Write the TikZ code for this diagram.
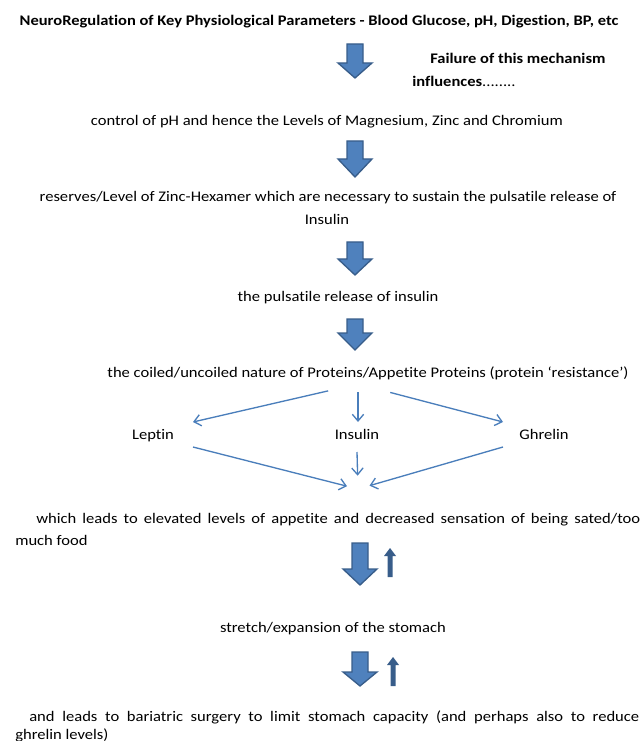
\documentclass[tikz,border=0pt]{standalone}
\usepackage{xcolor}
\usepackage{fontspec}
\setmainfont{Carlito}[Ligatures=CommonOff, FakeStretch=1.13,
  BoldFeatures={FakeStretch=1.125}]
\usetikzlibrary{arrows.meta,positioning,calc}
\definecolor{arrfill}{HTML}{4F81BD}
\definecolor{arrline}{HTML}{385D8A}
\definecolor{thinblue}{HTML}{4A7EBB}
\tikzset{
  txt/.style={inner sep=0pt, anchor=mid, yshift=-1.5pt, font=\fontsize{11pt}{13pt}\selectfont},
  thinarr/.style={draw=thinblue, line width=1pt, -{Straight Barb[length=5pt,width=8.5pt]}},
  pics/bigdown/.style n args={2}{code={
    \draw[fill=arrfill, draw=arrline, line width=1pt]
      (-8,0) -- (-8,#1) -- (-17,#1) -- (0,#2) -- (17,#1) -- (8,#1) -- (8,0) -- cycle;}},
  pics/smallup/.style={code={
    \fill[arrline] (-2.5,#1) -- (-2.5,8) -- (-6,8) -- (0,0) -- (6,8) -- (2.5,8) -- (2.5,#1) -- cycle;}}
}
\begin{document}
\begin{tikzpicture}[x=0.75pt, y=-0.75pt]
\useasboundingbox (0,0) rectangle (643,741);
% texts
\node[txt, font=\fontsize{11pt}{13pt}\selectfont\bfseries] (title) at (319,20)
  {NeuroRegulation of Key Physiological Parameters - Blood Glucose, pH, Digestion, BP, etc};
\node[txt, anchor=mid west, font=\fontsize{11pt}{13pt}\selectfont\bfseries] (fail) at (430,58)
  {Failure of this mechanism};
\node[txt, anchor=mid west] (infl) at (412,81) {\textbf{influences}........};
\node[txt] (ctrl) at (327,120) {control of pH and hence the Levels of Magnesium, Zinc and Chromium};
\node[txt] (zinc) at (328,196)
  {reserves/Level of Zinc-Hexamer which are necessary to sustain the pulsatile release of};
\node[txt] (zinc2) at (327,219) {Insulin};
\node[txt] (puls) at (338,296) {the pulsatile release of insulin};
\node[txt] (prot) at (368,372)
  {the coiled/uncoiled nature of Proteins/Appetite Proteins (protein ‘resistance’)};
\node[txt] (leptin) at (153,434) {Leptin};
\node[txt] (insulin) at (357,434) {Insulin};
\node[txt] (ghrelin) at (544,434) {Ghrelin};
\node[txt, anchor=mid west] (lead) at (36,518) {\makebox[453pt][s]{which leads to elevated
  levels of appetite and decreased sensation of being sated/too}};
\node[txt, anchor=mid west] (lead2) at (15,540) {much food};
\node[txt] (stretch) at (333,627) {stretch/expansion of the stomach};
\node[txt, anchor=mid west] (surg) at (29,716) {\makebox[457.5pt][s]{and leads to bariatric
  surgery to limit stomach capacity (and perhaps also to reduce}};
\node[txt, anchor=mid west] (surg2) at (15,734) {ghrelin levels)};
% block arrows
\pic at (355,44) {bigdown={19}{34}};
\pic at (355,141) {bigdown={18}{36}};
\pic at (355,242) {bigdown={17}{33}};
\pic at (355,319) {bigdown={14}{31}};
\pic at (360,543) {bigdown={26}{42}};
\pic at (360,652) {bigdown={20}{34}};
\pic at (390,548) {smallup={29}};
\pic at (393,657) {smallup={29}};
% split and merge
\coordinate (split) at (358,384);
\coordinate (meet) at (358,489);
\coordinate (toL) at (193,422);
\coordinate (toR) at (503,422);
\coordinate (fromL) at (193,447);
\coordinate (fromR) at (503,447);
\draw[thinarr, shorten <=23pt] (split) -- (toL);
\draw[thinarr, shorten <=6pt] (split) -- (358,422);
\draw[thinarr, shorten <=25pt] (split) -- (toR);
\draw[thinarr, shorten >=8.5pt] (fromL) -- (meet);
\draw[thinarr, shorten >=10pt] (insulin.south |- 0,452) -- (meet);
\draw[thinarr, shorten >=9pt] (fromR) -- (meet);
\end{tikzpicture}
\end{document}
